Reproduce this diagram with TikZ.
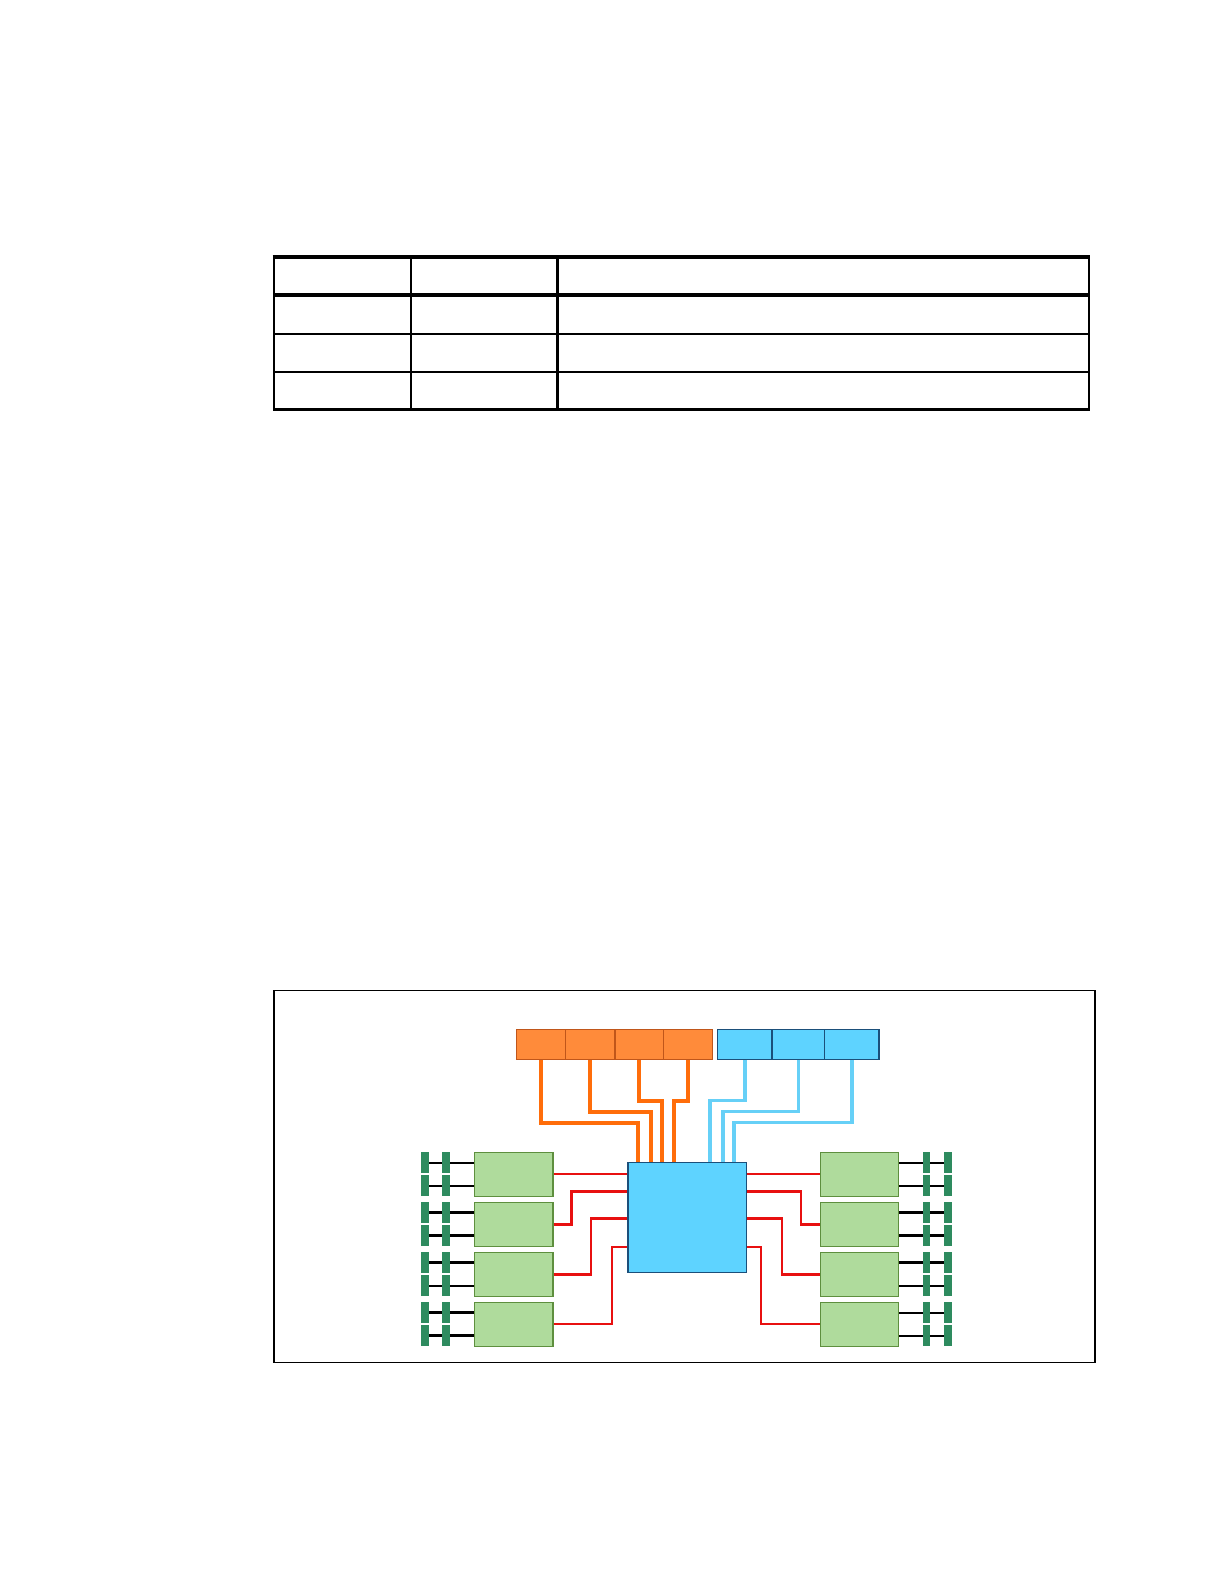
\documentclass[tikz,border=0pt]{standalone}
\usetikzlibrary{fit}
\definecolor{ofill}{HTML}{FF8B3A}
\definecolor{oedge}{HTML}{C0561A}
\definecolor{olinec}{HTML}{FF6D0A}
\definecolor{bfill}{HTML}{5ED3FF}
\definecolor{bedge}{HTML}{1B4F7A}
\definecolor{blinec}{HTML}{66D0F7}
\definecolor{gfill}{HTML}{AFDB9C}
\definecolor{gedge}{HTML}{5E8F3E}
\definecolor{barc}{HTML}{2E8B5F}
\definecolor{rlinec}{HTML}{E81010}
\begin{document}
\begin{tikzpicture}[x=0.5pt,y=-0.5pt,
  obox/.style={draw=oedge,fill=ofill,line width=0.6pt,inner sep=0pt},
  bbox/.style={draw=bedge,fill=bfill,line width=0.6pt,inner sep=0pt},
  chipbox/.style={draw=bedge,fill=bfill,line width=0.8pt,inner sep=0pt},
  gbox/.style={draw=gedge,fill=gfill,line width=0.6pt,inner sep=0pt},
  barbox/.style={fill=barc,draw=none,inner sep=0pt},
  olink/.style={draw=olinec,line width=2pt},
  blink/.style={draw=blinec,line width=1.75pt},
  rthin/.style={draw=rlinec,line width=1pt},
  rthick/.style={draw=rlinec,line width=1.4pt},
  wthin/.style={draw=black,line width=1pt},
  wthick/.style={draw=black,line width=1.5pt},
  tthin/.style={draw=black,line width=1pt},
  tthick/.style={draw=black,line width=1.75pt}]
\useasboundingbox (0,0) rectangle (1224,1584);
\fill[white] (0,0) rectangle (1224,1584);

% ---- table ----
\draw[line width=1.2pt] (273.7,257) rectangle (1088.7,409.5);
\draw[tthick] (272.5,257) -- (1089.9,257);
\draw[tthick] (273.7,295) -- (1088.7,295);
\draw[tthin] (273.7,333.5) -- (1088.7,333.5);
\draw[tthin] (273.7,371.7) -- (1088.7,371.7);
\draw[line width=1.2pt] (411,257) -- (411,409.5);
\draw[line width=1.2pt] (557.5,257) -- (557.5,409.5);

% ---- diagram frame ----
\draw[line width=0.6pt] (274,990.7) rectangle (1095,1362.3);

% ---- top boxes ----
\node[obox,fit={(516.4,1029.3)(565.2,1059.3)}] (o1) {};
\node[obox,fit={(565.2,1029.3)(615,1059.3)}] (o2) {};
\node[obox,fit={(615,1029.3)(663.2,1059.3)}] (o3) {};
\node[obox,fit={(663.2,1029.3)(712.5,1059.3)}] (o4) {};
\node[bbox,fit={(717.8,1029.3)(771.9,1059.3)}] (b1) {};
\node[bbox,fit={(771.9,1029.3)(824.8,1059.3)}] (b2) {};
\node[bbox,fit={(824.8,1029.3)(878.9,1059.3)}] (b3) {};

% ---- central chip ----
\node[chipbox,fit={(627.7,1162.3)(746.4,1272.3)}] (chip) {};

% ---- orange links ----
\coordinate (oc1) at (637.8,1122.7);
\coordinate (oc2) at (651,1111.7);
\coordinate (oc3) at (662.2,1100.7);
\coordinate (oc4) at (674.3,1100.7);
\draw[olink] (o1.south) |- (oc1) -- (oc1 |- chip.north);
\draw[olink] (o2.south) |- (oc2) -- (oc2 |- chip.north);
\draw[olink] (o3.south) |- (oc3) -- (oc3 |- chip.north);
\draw[olink] (o4.south) |- (oc4) -- (oc4 |- chip.north);

% ---- blue links ----
\coordinate (bc1) at (709.9,1100.7);
\coordinate (bc2) at (723.1,1111.7);
\coordinate (bc3) at (734.2,1122.7);
\draw[blink] (b1.south) |- (bc1) -- (bc1 |- chip.north);
\draw[blink] (b2.south) |- (bc2) -- (bc2 |- chip.north);
\draw[blink] (b3.south) |- (bc3) -- (bc3 |- chip.north);

% ---- green modules ----
\foreach \i in {1,...,4} {
  \pgfmathsetmacro\t{1152.3+50*(\i-1)}
  \pgfmathsetmacro\tb{\t+44}
  \node[gbox,fit={(474.5,\t)(553,\tb)}] (L\i) {};
  \node[gbox,fit={(820.5,\t)(898.8,\tb)}] (R\i) {};
}

% ---- black wires (left then right) ----
\foreach \i/\sa/\sb/\sc/\sd in {1/wthin/wthin/wthin/wthin,2/wthick/wthick/wthick/wthick,3/wthick/wthin/wthick/wthin,4/wthick/wthick/wthin/wthin} {
  \pgfmathsetmacro\t{1152.3+50*(\i-1)}
  \pgfmathsetmacro\ya{\t+10.25}
  \pgfmathsetmacro\yb{\t+33.25}
  \coordinate (lwa\i) at (425,\ya);
  \coordinate (lwb\i) at (425,\yb);
  \coordinate (rwa\i) at (948,\ya);
  \coordinate (rwb\i) at (948,\yb);
  \draw[\sa] (lwa\i) -- (lwa\i -| L\i.west);
  \draw[\sb] (lwb\i) -- (lwb\i -| L\i.west);
  \draw[\sc] (rwa\i -| R\i.east) -- (rwa\i);
  \draw[\sd] (rwb\i -| R\i.east) -- (rwb\i);
}

% ---- connector bars ----
\foreach \i in {1,...,4} {
  \pgfmathsetmacro\t{1152.3+50*(\i-1)}
  \pgfmathsetmacro\ta{\t+20.5}
  \pgfmathsetmacro\tc{\t+23}
  \pgfmathsetmacro\td{\t+43.5}
  \node[barbox,fit={(421,\t)(429,\ta)}] (lpa\i) {};
  \node[barbox,fit={(442,\t)(450,\ta)}] (lqa\i) {};
  \node[barbox,fit={(421,\tc)(429,\td)}] (lpb\i) {};
  \node[barbox,fit={(442,\tc)(450,\td)}] (lqb\i) {};
  \node[barbox,fit={(922.7,\t)(930,\ta)}] (rpa\i) {};
  \node[barbox,fit={(944,\t)(951.7,\ta)}] (rqa\i) {};
  \node[barbox,fit={(922.7,\tc)(930,\td)}] (rpb\i) {};
  \node[barbox,fit={(944,\tc)(951.7,\td)}] (rqb\i) {};
}

% ---- red links left ----
\coordinate (rl2) at (571.7,1191.7);
\coordinate (rl3) at (591,1218.3);
\coordinate (rl4) at (612,1247.3);
\draw[rthin] (L1.east) -- (L1.east -| chip.west);
\draw[rthick] (L2.east) -| (rl2) -- (rl2 -| chip.west);
\draw[rthick] (L3.east) -| (rl3) -- (rl3 -| chip.west);
\draw[rthin] (L4.east) -| (rl4) -- (rl4 -| chip.west);

% ---- red links right ----
\coordinate (rr2) at (801,1191.7);
\coordinate (rr3) at (782,1218.3);
\coordinate (rr4) at (760.7,1247.3);
\draw[rthin] (R1.west) -- (R1.west -| chip.east);
\draw[rthick] (R2.west) -| (rr2) -- (rr2 -| chip.east);
\draw[rthick] (R3.west) -| (rr3) -- (rr3 -| chip.east);
\draw[rthin] (R4.west) -| (rr4) -- (rr4 -| chip.east);
\end{tikzpicture}
\end{document}
